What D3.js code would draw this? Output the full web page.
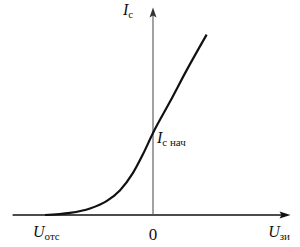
<!DOCTYPE html>
<html>
<head>
<meta charset="utf-8">
<script src="https://cdn.jsdelivr.net/npm/d3@7"></script>
<style>
  body { margin: 0; background: #fff; }
  text { font-family: "Liberation Serif", "DejaVu Serif", serif; fill: #111; }
</style>
</head>
<body>
<div id="chart"></div>
<script>
// transfer characteristic, values (Ic in units of Ic nach)
var uValues = [-3, -2.31, -1.75, -1.29, -0.92, -0.56, -0.28, 0, 0.47, 0.94, 1.49];
var iValues = [0, 0.025, 0.08, 0.17, 0.30, 0.51, 0.74, 1, 1.38, 1.77, 2.20];
var uCutoff = -3;
var uZero = 0;
var iStart = 1;

var width = 300, height = 247;

var svg = d3.select("#chart")
  .append("svg")
    .attr("width", width)
    .attr("height", height);

var x = d3.scaleLinear().domain([-3, 1.5]).range([45, 207]);
var y = d3.scaleLinear().domain([0, 1]).range([215, 133]);

var data = uValues.map(function(u, i) { return {u: u, i: iValues[i]}; });

// axes
svg.append("line")
  .attr("x1", x(-3.9)).attr("x2", x(3.72))
  .attr("y1", y(0)).attr("y2", y(0))
  .style("stroke", "#111").style("stroke-width", 1.6);

svg.append("line")
  .attr("x1", x(uZero)).attr("x2", x(uZero))
  .attr("y1", y(0)).attr("y2", y(2.5))
  .style("stroke", "#555").style("stroke-width", 1.1);

// arrow heads
var ax = x(3.82), ay = y(0);
svg.append("path")
  .attr("d", "M" + ax + "," + ay + " L" + (ax - 11) + "," + (ay - 3.5) + " L" + (ax - 9) + "," + ay + " L" + (ax - 11) + "," + (ay + 3.5) + "Z")
  .style("fill", "#111");

var tx = x(uZero), ty = y(2.53);
svg.append("path")
  .attr("d", "M" + tx + "," + ty + " L" + (tx - 3.5) + "," + (ty + 10) + " L" + tx + "," + (ty + 8) + " L" + (tx + 3.5) + "," + (ty + 10) + "Z")
  .style("fill", "#333");

// curve
var line = d3.line()
  .x(function(d) { return x(d.u); })
  .y(function(d) { return y(d.i); })
  .curve(d3.curveMonotoneX);

svg.append("path")
  .datum(data)
  .attr("d", line)
  .style("fill", "none")
  .style("stroke", "#111")
  .style("stroke-width", 2.2);

// labels
function label(px, py, main, sub) {
  var t = svg.append("text").attr("x", px).attr("y", py).style("font-size", "16px");
  t.append("tspan").style("font-style", "italic").text(main);
  if (sub) t.append("tspan").attr("dy", 3).style("font-size", "11px").text(sub);
}

label(x(uZero) - 30, 15, "I", "с");
label(x(uZero) + 4, y(iStart) + 10, "I", "с нач");
label(x(uCutoff) - 12, 237, "U", "отс");
label(x(3.2), 237, "U", "зи");

svg.append("text")
  .attr("x", x(uZero)).attr("y", 240)
  .attr("text-anchor", "middle")
  .style("font-size", "17px")
  .text("0");
</script>
</body>
</html>
